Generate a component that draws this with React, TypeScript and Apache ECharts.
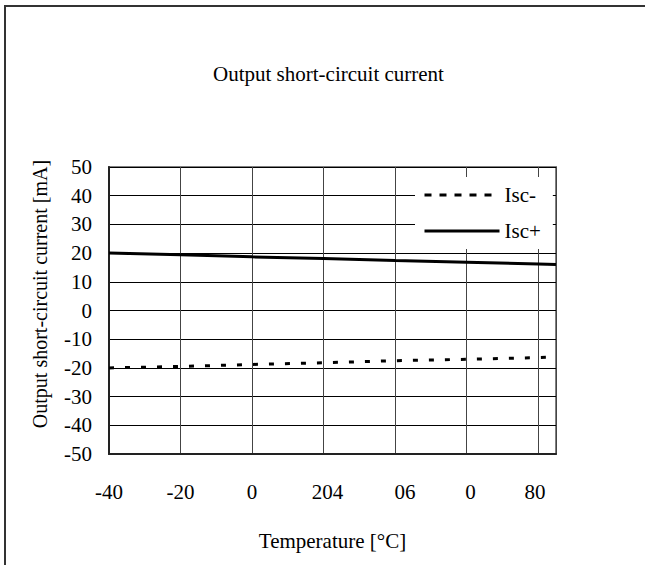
import React, { useEffect, useRef } from "react";
import * as echarts from "echarts";

const temps = [-40, -20, 0, 20, 40, 60, 80, 85];
const iscPlus = [20.0, 19.4, 18.7, 18.1, 17.4, 16.8, 16.2, 16.0];
const iscMinus = [-20.0, -19.5, -18.8, -18.2, -17.5, -17.0, -16.4, -16.2];
const xTickLabels: Record<string, string> = {
  "-40": "-40",
  "-20": "-20",
  "0": "0",
  "20": "{a|204}",
  "40": "{b|06}",
  "60": "{a|0}",
  "80": "{c|80}",
};
const titleText = "Output short-circuit current";
const yName = "Output short-circuit current [mA]";
const xName = "Temperature [°C]";

const FONT = "'Liberation Serif', 'Times New Roman', 'DejaVu Serif', serif";

export default function App() {
  const ref = useRef<HTMLDivElement>(null);
  useEffect(() => {
    if (!ref.current) return;
    const chart = echarts.init(ref.current, undefined, { renderer: "svg" });
    const lab = { fontFamily: FONT, fontSize: 21, color: "#000" };
    chart.setOption({
      animation: false,
      backgroundColor: "#fff",
      textStyle: { fontFamily: FONT },
      title: {
        text: titleText,
        left: 208,
        top: 58,
        textStyle: { fontFamily: FONT, fontSize: 21, fontWeight: "normal", color: "#000" },
      },
      graphic: [
        {
          type: "rect",
          shape: { x: 5, y: 6, width: 800, height: 800 },
          style: { fill: "none", stroke: "#333", lineWidth: 2 },
          silent: true,
        },
        {
          type: "text",
          x: 40,
          y: 294,
          rotation: Math.PI / 2,
          style: {
            text: yName,
            fontFamily: FONT,
            fontSize: 20,
            fill: "#000",
            textAlign: "center",
            textVerticalAlign: "middle",
          },
        },
      ],
      legend: {
        left: 415,
        top: 177,
        orient: "vertical",
        backgroundColor: "#fff",
        padding: [6, 12, 6, 8],
        itemWidth: 75,
        itemHeight: 14,
        itemGap: 12,
        textStyle: { ...lab, lineHeight: 24, padding: [0, 0, 0, 0] },
        data: [
          {
            name: "Isc-",
            itemStyle: { opacity: 0 },
            lineStyle: { type: [7, 8], width: 3, color: "#000" },
          },
          {
            name: "Isc+",
            itemStyle: { opacity: 0 },
            lineStyle: { width: 3, color: "#000" },
          },
        ],
      },
      grid: {
        left: 109,
        top: 167,
        right: 89,
        bottom: 111,
        show: true,
        borderColor: "#808080",
        borderWidth: 2,
        backgroundColor: "transparent",
      },
      xAxis: {
        type: "value",
        min: -40,
        max: 85,
        interval: 20,
        name: xName,
        nameLocation: "middle",
        nameGap: 76,
        nameTextStyle: { ...lab },
        axisLine: { show: true, onZero: false, lineStyle: { color: "#222", width: 2 } },
        axisTick: { show: false },
        axisLabel: {
          ...lab,
          margin: 27,
          showMaxLabel: false,
          formatter: (v: number) => xTickLabels[String(v)] ?? "",
          rich: {
            a: { ...lab, padding: [0, 0, 0, 8] },
            b: { ...lab, padding: [0, 0, 0, 20] },
            c: { ...lab, padding: [0, 6, 0, 0] },
          },
        },
        splitLine: { show: true, lineStyle: { color: "#444", width: 1 } },
      },
      yAxis: {
        type: "value",
        min: -50,
        max: 50,
        interval: 10,
        axisLine: { show: true, onZero: false, lineStyle: { color: "#222", width: 2 } },
        axisTick: { show: false },
        axisLabel: { ...lab, margin: 17 },
        splitLine: { show: true, lineStyle: { color: "#000", width: 1 } },
      },
      series: [
        {
          name: "Isc-",
          type: "line",
          symbol: "none",
          data: temps.map((t, i) => [t, iscMinus[i]]),
          lineStyle: { color: "#000", width: 3, type: [5, 11] },
          itemStyle: { color: "#000" },
          z: 3,
        },
        {
          name: "Isc+",
          type: "line",
          symbol: "none",
          data: temps.map((t, i) => [t, iscPlus[i]]),
          lineStyle: { color: "#000", width: 3 },
          itemStyle: { color: "#000" },
          z: 3,
        },
      ],
    });
    return () => chart.dispose();
  }, []);
  return (
    <div
      ref={ref}
      style={{ position: "fixed", left: 0, top: 0, width: 645, height: 565 }}
    />
  );
}
